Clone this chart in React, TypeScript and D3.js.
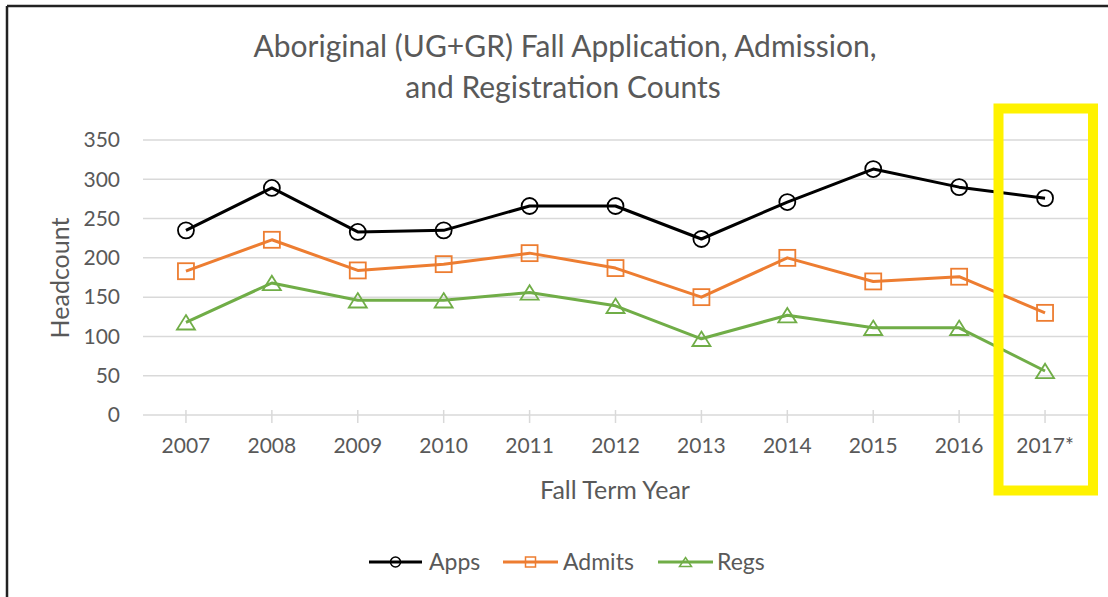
import React from 'react';
import * as d3 from 'd3';

const years = ['2007', '2008', '2009', '2010', '2011', '2012', '2013', '2014', '2015', '2016', '2017*'];
const apps = [235, 289, 233, 235, 266, 266, 224, 271, 313, 290, 276];
const admits = [183, 223, 184, 192, 206, 187, 150, 200, 170, 176, 130];
const regs = [118, 168, 146, 146, 156, 139, 97, 127, 111, 111, 56];
const yTicks = [0, 50, 100, 150, 200, 250, 300, 350];

const W = 1108;
const H = 597;
const FONT = 'Lato, "Open Sans", sans-serif';
const GREY = '#595959';

const x = d3.scaleBand().domain(years).range([143, 1088]).padding(0);
const y = d3.scaleLinear().domain([0, 350]).range([415, 140]);
const cx = (d: string) => (x(d) || 0) + x.bandwidth() / 2;

type Shape = 'circle' | 'square' | 'triangle';

const series: { name: string; values: number[]; color: string; shape: Shape }[] = [
  { name: 'Apps', values: apps, color: '#000000', shape: 'circle' },
  { name: 'Admits', values: admits, color: '#ED7D31', shape: 'square' },
  { name: 'Regs', values: regs, color: '#70AD47', shape: 'triangle' },
];

const Marker: React.FC<{ shape: Shape; px: number; py: number; size: number; color: string; sw: number }> = ({
  shape,
  px,
  py,
  size,
  color,
  sw,
}) => {
  if (shape === 'circle') {
    return <circle cx={px} cy={py} r={size / 2} fill="none" stroke={color} strokeWidth={sw} />;
  }
  if (shape === 'square') {
    return (
      <rect x={px - size / 2} y={py - size / 2} width={size} height={size} fill="none" stroke={color} strokeWidth={sw} />
    );
  }
  const h = size * 0.9;
  const p = `M${px},${py - h / 2}L${px + size / 2 + 1},${py + h / 2}L${px - size / 2 - 1},${py + h / 2}Z`;
  return <path d={p} fill="none" stroke={color} strokeWidth={sw} />;
};

export default function App() {
  const line = d3
    .line<number>()
    .x((_, i) => cx(years[i]))
    .y((d) => y(d));

  // legend positions
  const legend = [
    { x0: 369, x1: 422, tx: 429 },
    { x0: 503, x1: 558, tx: 563 },
    { x0: 658, x1: 713, tx: 717 },
  ];
  const ly = 562;

  return (
    <svg
      width={W}
      height={H}
      style={{ position: 'absolute', left: 0, top: 0, display: 'block', background: '#fff' }}
      fontFamily={FONT}
    >
      {/* frame (only top and left visible) */}
      <line x1={7} y1={6} x2={W} y2={6} stroke="#222" strokeWidth={2.5} />
      <line x1={7} y1={6} x2={7} y2={H} stroke="#222" strokeWidth={2.5} />

      {/* title */}
      <text x={565} y={57} textAnchor="middle" fontSize={30} fill={GREY}>
        Aboriginal (UG+GR) Fall Application, Admission,
      </text>
      <text x={563} y={98} textAnchor="middle" fontSize={30} fill={GREY}>
        and Registration Counts
      </text>

      {/* grid */}
      {yTicks.map((t) => (
        <g key={t}>
          <line x1={143} x2={1088} y1={y(t)} y2={y(t)} stroke="#d9d9d9" strokeWidth={1.5} />
          <text x={120} y={y(t)} dy="0.35em" textAnchor="end" fontSize={21} fill={GREY}>
            {t}
          </text>
        </g>
      ))}

      {/* x ticks */}
      {years.map((yr) => (
        <g key={yr}>
          <line x1={cx(yr)} x2={cx(yr)} y1={410} y2={423} stroke="#d9d9d9" strokeWidth={1.5} />
          <text x={cx(yr)} y={446} dy="0.35em" textAnchor="middle" fontSize={21} fill={GREY}>
            {yr}
          </text>
        </g>
      ))}

      {/* axis titles */}
      <text x={615} y={490} dy="0.35em" textAnchor="middle" fontSize={25} fill={GREY}>
        Fall Term Year
      </text>
      <text transform={`translate(60, 278) rotate(-90)`} dy="0.35em" textAnchor="middle" fontSize={25} fill={GREY}>
        Headcount
      </text>

      {/* series */}
      {series.map((s) => (
        <g key={s.name}>
          <path d={line(s.values) || ''} fill="none" stroke={s.color} strokeWidth={3} strokeLinejoin="round" />
          {s.values.map((v, i) => (
            <Marker key={i} shape={s.shape} px={cx(years[i])} py={y(v)} size={16} color={s.color} sw={1.8} />
          ))}
        </g>
      ))}

      {/* highlight box */}
      <rect x={998.5} y={108.5} width={94.5} height={382} fill="none" stroke="#FFF200" strokeWidth={10} />

      {/* legend */}
      {series.map((s, i) => {
        const l = legend[i];
        return (
          <g key={s.name}>
            <line x1={l.x0} x2={l.x1} y1={ly} y2={ly} stroke={s.color} strokeWidth={3} />
            <Marker shape={s.shape} px={(l.x0 + l.x1) / 2} py={ly} size={10} color={s.color} sw={1.5} />
            <text x={l.tx} y={ly} dy="0.35em" fontSize={23} fill={GREY}>
              {s.name}
            </text>
          </g>
        );
      })}
    </svg>
  );
}
